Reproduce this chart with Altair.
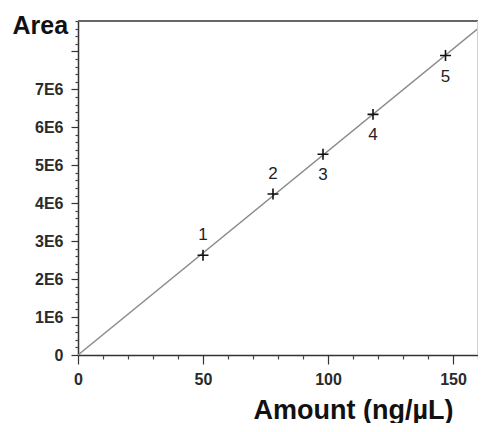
import altair as alt
import pandas as pd

# Calibration points
amount = [50, 78, 98, 118, 147]          # ng/µL
area = [2.63e6, 4.24e6, 5.29e6, 6.34e6, 7.89e6]
labels = ["1", "2", "3", "4", "5"]
label_side = ["above", "above", "below", "below", "below"]

# Calibration line (fit through origin)
line_amount = [0, 160]
line_area = [0, 8.6e6]

x_max = 160
y_max = 8.8e6
x_major = [0, 50, 100, 150]
x_minor = [v for v in range(0, 161, 10) if v % 50 != 0]
y_major = [i * 1000000 for i in range(0, 9)]
y_minor = [i * 200000 for i in range(0, 45) if i % 5 != 0]

pts = pd.DataFrame({"amount": amount, "area": area, "label": labels, "side": label_side})
line_df = pd.DataFrame({"amount": line_amount, "area": line_area})

FONT = "Liberation Sans"

x_scale = alt.Scale(domain=[0, x_max], nice=False, zero=True)
y_scale = alt.Scale(domain=[0, y_max], nice=False, zero=True)

x_axis = alt.Axis(
    orient="bottom",
    values=x_major,
    title="Amount (ng/µL)",
    titleFont=FONT, titleFontSize=27, titleFontWeight="bold", titleColor="#111",
    titleAlign="center", titleBaseline="middle",
    titleX=275, titleY=55,
    labelFont=FONT, labelFontSize=16, labelFontWeight="bold", labelColor="#2a2a2a",
    labelFlush=False, labelOverlap=False, labelPadding=7,
    tickSize=9, tickColor="#333", tickWidth=1.2,
    domainColor="#333", domainWidth=1.5, grid=False,
)
y_axis = alt.Axis(
    orient="left",
    values=y_major,
    title="Area",
    titleFont=FONT, titleFontSize=25, titleFontWeight="bold", titleColor="#111",
    titleAngle=0, titleAlign="left", titleBaseline="middle",
    titleX=-66, titleY=4,
    labelExpr="datum.value >= 8000000 ? '' : (datum.value == 0 ? '0' : (datum.value / 1000000) + 'E6')",
    labelFont=FONT, labelFontSize=16, labelFontWeight="bold", labelColor="#2a2a2a",
    labelFlush=False, labelOverlap=False, labelPadding=8,
    tickSize=7, tickColor="#333", tickWidth=1.2,
    domainColor="#333", domainWidth=1.5, grid=False,
)
x_minor_axis = alt.Axis(
    orient="bottom", values=x_minor, labels=False, title=None, domain=False,
    tickSize=4, tickColor="#444", tickWidth=1.2, grid=False,
)
y_minor_axis = alt.Axis(
    orient="left", values=y_minor, labels=False, title=None, domain=False,
    tickSize=3, tickColor="#444", tickWidth=1.2, grid=False,
)

line = alt.Chart(line_df).mark_line(color="#8a8a8a", strokeWidth=1.5).encode(
    x=alt.X("amount:Q", scale=x_scale, axis=x_axis),
    y=alt.Y("area:Q", scale=y_scale, axis=y_axis),
)

minor = alt.Chart(line_df).mark_point(opacity=0).encode(
    x=alt.X("amount:Q", scale=x_scale, axis=x_minor_axis),
    y=alt.Y("area:Q", scale=y_scale, axis=y_minor_axis),
)

points = alt.Chart(pts).mark_point(
    shape="M-1,0L1,0M0,-1L0,1", filled=False, size=120, strokeWidth=1.6, color="#111", opacity=1
).encode(
    x=alt.X("amount:Q", axis=None),
    y=alt.Y("area:Q", axis=None),
)

above = alt.Chart(pts).transform_filter("datum.side == 'above'").mark_text(
    dy=-20, font=FONT, fontSize=17, color="#222"
).encode(x=alt.X("amount:Q", axis=None), y=alt.Y("area:Q", axis=None), text="label:N")

below = alt.Chart(pts).transform_filter("datum.side == 'below'").mark_text(
    dy=21, font=FONT, fontSize=17, color="#222"
).encode(x=alt.X("amount:Q", axis=None), y=alt.Y("area:Q", axis=None), text="label:N")

top_rule = alt.Chart(pts).mark_rule(color="#666", strokeWidth=2.2).encode(
    y=alt.Y(datum=y_max, axis=None)
)
right_rule = alt.Chart(pts).mark_rule(color="#d0d0d0", strokeWidth=1).encode(
    x=alt.X(datum=x_max, axis=None)
)

chart = alt.layer(line, minor, top_rule, right_rule, points, above, below).resolve_axis(
    x="independent", y="independent"
).properties(
    width=400,
    height=334,
    autosize=alt.AutoSizeParams(type="none"),
    padding={"left": 70, "top": 13, "right": 0, "bottom": 68},
    background="white",
).configure_view(stroke=None)

chart.save("out.html", embed_options={"renderer": "svg", "actions": False})
